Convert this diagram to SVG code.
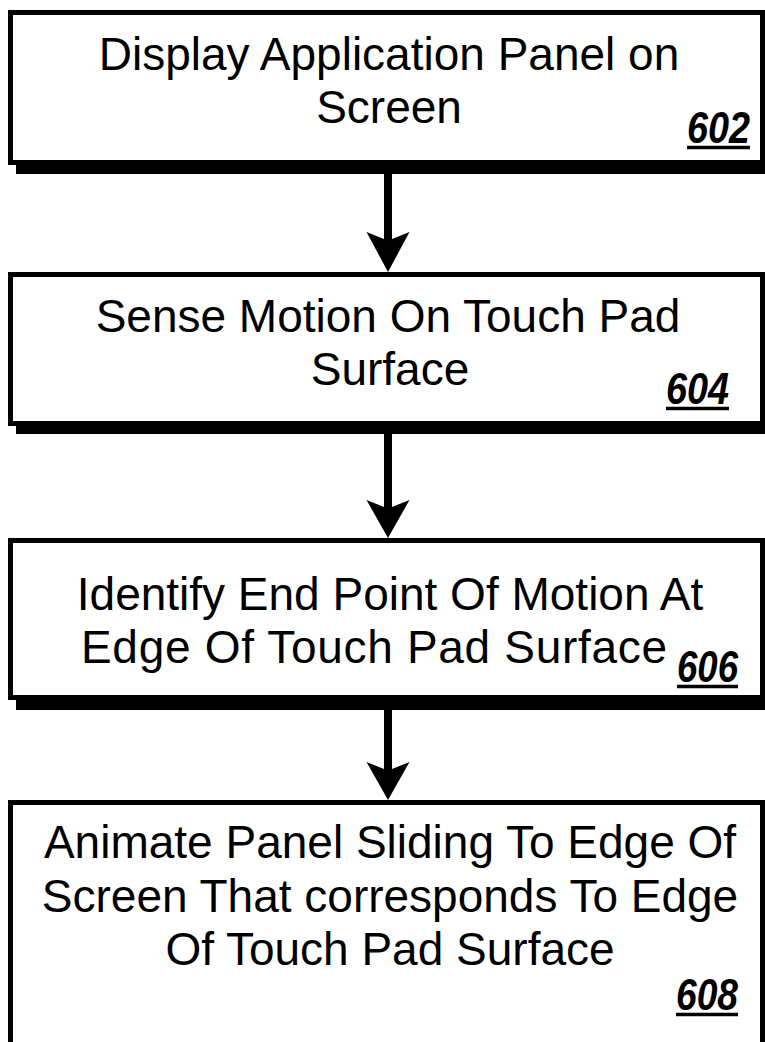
<svg xmlns="http://www.w3.org/2000/svg" width="765" height="1042" viewBox="0 0 765 1042">
<style>
.box{fill:#fff;stroke:#000;stroke-width:5}
.sh{fill:#000}
.t{font-family:"Liberation Sans",Arial,sans-serif;font-size:46px;fill:#000;text-anchor:middle}
.n{font-family:"Liberation Sans",Arial,sans-serif;font-size:44px;font-weight:bold;font-style:italic;fill:#000}
.ul{stroke:#000;stroke-width:3.5}
.ar{fill:#000}
</style>
<rect width="765" height="1042" fill="#fff"/>
<g id="node602">
<rect class="sh" x="16" y="163" width="760" height="11"/>
<rect class="box" x="10.5" y="12.5" width="752" height="150"/>
<text class="t" x="389" y="70">Display Application Panel on</text>
<text class="t" x="389" y="123">Screen</text>
<text class="n" x="687" y="143" textLength="63" lengthAdjust="spacingAndGlyphs">602</text>
<line class="ul" x1="687" y1="147.5" x2="750" y2="147.5"/>
</g>
<g id="node604">
<rect class="sh" x="16" y="424" width="760" height="10"/>
<rect class="box" x="10.5" y="274.5" width="752" height="149"/>
<text class="t" x="388" y="332">Sense Motion On Touch Pad</text>
<text class="t" x="390" y="385">Surface</text>
<text class="n" x="666" y="404" textLength="63" lengthAdjust="spacingAndGlyphs">604</text>
<line class="ul" x1="666" y1="408.5" x2="729" y2="408.5"/>
</g>
<g id="node606">
<rect class="sh" x="16" y="698" width="760" height="12"/>
<rect class="box" x="10.5" y="540.5" width="752" height="157"/>
<text class="t" x="390" y="610">Identify End Point Of Motion At</text>
<text class="t" x="81" y="663" style="text-anchor:start" textLength="586" lengthAdjust="spacing">Edge Of Touch Pad Surface</text>
<text class="n" x="677" y="682" textLength="61" lengthAdjust="spacingAndGlyphs">606</text>
<line class="ul" x1="677" y1="686.5" x2="738" y2="686.5"/>
</g>
<g id="node608">
<rect class="box" x="10.5" y="802.5" width="752" height="250"/>
<text class="t" x="390" y="858">Animate Panel Sliding To Edge Of</text>
<text class="t" x="390" y="912">Screen That corresponds To Edge</text>
<text class="t" x="390" y="965">Of Touch Pad Surface</text>
<text class="n" x="676" y="1010" textLength="62" lengthAdjust="spacingAndGlyphs">608</text>
<line class="ul" x1="676" y1="1014.5" x2="738" y2="1014.5"/>
</g>
<g id="connectors">
<path class="ar" d="M384,172 L384,239 L366.5,232 L388,272 L409.5,232 L392,239 L392,172 Z"/>
<path class="ar" d="M384,432 L384,507 L366.5,500 L388,538 L409.5,500 L392,507 L392,432 Z"/>
<path class="ar" d="M384,708 L384,769 L366.5,762 L388,800 L409.5,762 L392,769 L392,708 Z"/>
</g>
</svg>
